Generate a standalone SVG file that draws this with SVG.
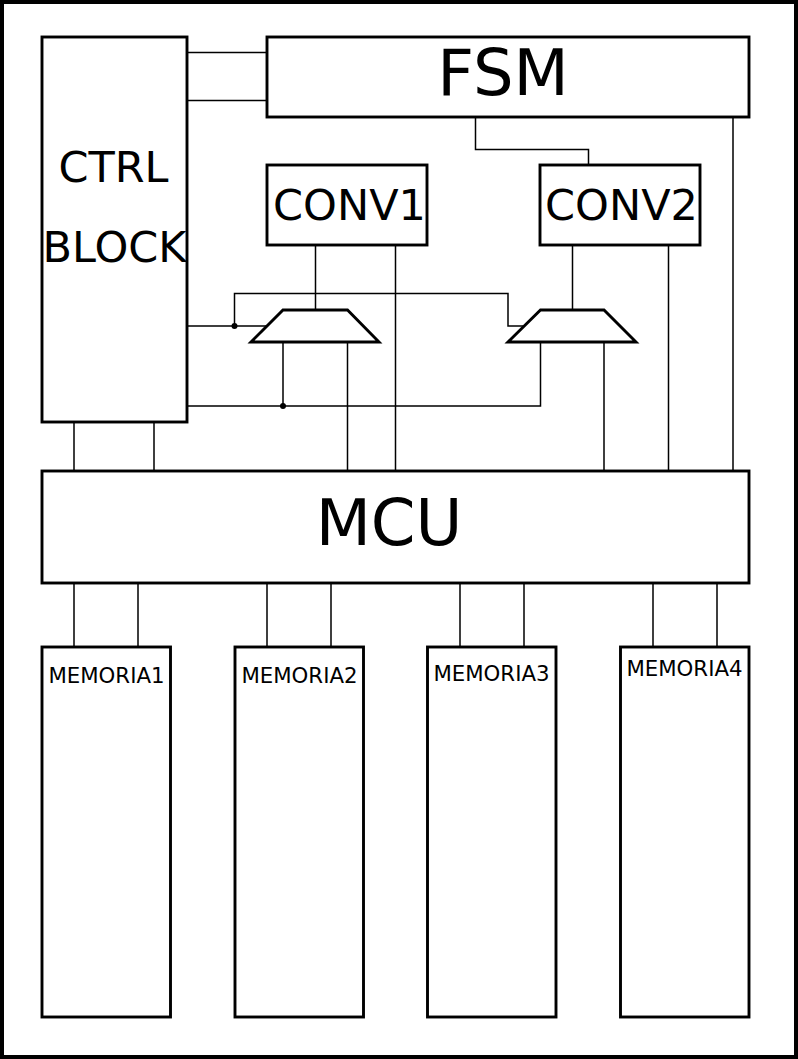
<svg xmlns="http://www.w3.org/2000/svg" width="798" height="1059" viewBox="0 0 798 1059">
<style>
.b{fill:#fff;stroke:#000;stroke-width:2.9}
.w{fill:none;stroke:#000;stroke-width:1.5}
text{font-family:"DejaVu Sans",sans-serif;fill:#000;text-anchor:middle}
</style>
<rect width="798" height="1059" fill="#fff"/>
<rect id="frame" x="2" y="2" width="794" height="1055" fill="none" stroke="#000" stroke-width="4"/>
<g id="connectors">
<path class="w" d="M187 52.500H267M187 100.500H267M475.500 117V149.500H588.500V165M733 117V470"/>
<path class="w" d="M315.500 245V310M395.500 245V470M572.500 245V310M668.500 245V470"/>
<path class="w" d="M187 326H267M234.500 326V293.500H508V326H524"/>
<path class="w" d="M187 406H540.500V342M283 342V406M347.500 342V470M604 342V470"/>
<path class="w" d="M74 422V470M154 422V470"/>
<path class="w" d="M74 583V647M138 583V647M267 583V647M331 583V647M460 583V647M524 583V647M653 583V647M717 583V647"/>
<circle cx="234.500" cy="326" r="3"/>
<circle cx="283" cy="406" r="3"/>
</g>
<g id="ctrl"><rect class="b" x="42" y="37" width="145" height="385"/><text x="113.500" y="182" font-size="43">CTRL</text><text x="114.500" y="262" font-size="43">BLOCK</text></g>
<g id="fsm"><rect class="b" x="267" y="37" width="482" height="80"/><text x="503" y="95" font-size="64">FSM</text></g>
<g id="conv1"><rect class="b" x="267" y="165" width="160" height="80"/><text x="349.500" y="220" font-size="43">CONV1</text></g>
<g id="conv2"><rect class="b" x="540" y="165" width="160" height="80"/><text x="621.500" y="220" font-size="43">CONV2</text></g>
<g id="mux1"><path class="b" d="M283 310H347.500L379 342H251Z"/></g>
<g id="mux2"><path class="b" d="M540.500 310H604L636 342H508Z"/></g>
<g id="mcu"><rect class="b" x="42" y="471" width="707" height="112"/><text x="389" y="545" font-size="64">MCU</text></g>
<g id="memoria1"><rect class="b" x="42" y="647" width="128.500" height="370"/><text x="106.500" y="683" font-size="21.300">MEMORIA1</text></g>
<g id="memoria2"><rect class="b" x="235" y="647" width="128.500" height="370"/><text x="299.500" y="683" font-size="21.300">MEMORIA2</text></g>
<g id="memoria3"><rect class="b" x="427.500" y="647" width="128.500" height="370"/><text x="491.500" y="681" font-size="21.300">MEMORIA3</text></g>
<g id="memoria4"><rect class="b" x="620.500" y="647" width="128.500" height="370"/><text x="684.500" y="676" font-size="21.300">MEMORIA4</text></g>
</svg>
